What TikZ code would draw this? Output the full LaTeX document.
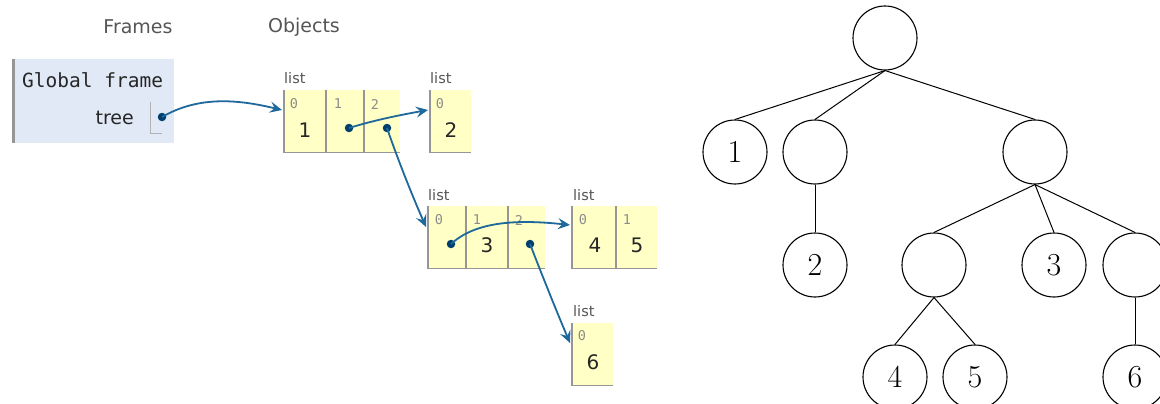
\documentclass[tikz,border=0pt]{standalone}
\usepackage{fontspec}
\setsansfont{DejaVu Sans}
\setmonofont{DejaVu Sans Mono}
\usetikzlibrary{arrows.meta}
\definecolor{framebg}{RGB}{224,233,245}
\definecolor{listbg}{RGB}{255,255,198}
\definecolor{bordergray}{RGB}{150,150,150}
\definecolor{ptrblue}{RGB}{30,104,155}
\definecolor{dotblue}{RGB}{0,62,110}
\definecolor{headgray}{RGB}{85,85,85}
\definecolor{idxgray}{RGB}{140,140,140}
\tikzset{
  heading/.style={font=\sffamily\fontsize{19}{22}\selectfont, text=headgray, inner sep=0pt},
  listlabel/.style={font=\sffamily\fontsize{14.5}{17}\selectfont, text=headgray, inner sep=0pt, anchor=base west},
  cell/.style={rectangle, fill=listbg, inner sep=0pt, anchor=north west, minimum height=62pt},
  idx/.style={font=\ttfamily\fontsize{13.5}{15}\selectfont, text=idxgray, inner sep=0pt},
  val/.style={font=\sffamily\fontsize{20}{24}\selectfont, text=black!85, inner sep=0pt},
  ptrdot/.style={circle, fill=dotblue, inner sep=0pt, minimum size=8.5pt},
  ptr/.style={draw=ptrblue, line width=1.8pt, -{Stealth[length=12pt,width=11pt,inset=4.5pt]}},
  tnode/.style={circle, draw, line width=1.1pt, minimum size=64pt, inner sep=0pt, font=\fontsize{32}{36}\selectfont},
  tedge/.style={line width=1pt},
}
\begin{document}
\begin{tikzpicture}[x=1pt,y=-1pt]
\useasboundingbox (0,0) rectangle (1160,404);
\clip (0,0) rectangle (1160,404);
% headings
\node[heading] (hfr) at (138,27) {Frames};
\node[heading] (hob) at (304,27) {Objects};
% global frame
\node[rectangle, fill=framebg, anchor=north west, minimum width=162pt, minimum height=84pt, inner sep=0pt] (gf) at (12,59) {};
\draw[draw=bordergray, line width=2.5pt] (gf.north west) ++(1.25,0) -- ++(0,84);
\node[font=\ttfamily\fontsize{19.5}{22}\selectfont, text=black!85, inner sep=0pt, anchor=west] (gft) at (22,80) {Global frame};
\node[font=\sffamily\fontsize{19}{22}\selectfont, text=black!85, inner sep=0pt, anchor=east] (tree) at (134,118) {tree};
\draw[draw=black!30, line width=1pt] (150,102) -- (150,133) -- (162,133);
\node[ptrdot] (d0) at (162,117) {};
% list 1
\node[listlabel] (l1lab) at (284,84) {list};
\node[cell, minimum width=42pt] (l1c0) at (284,90) {};
\node[cell, minimum width=38pt] (l1c1) at (326,90) {};
\node[cell, minimum width=36pt] (l1c2) at (364,90) {};
% list 2
\node[listlabel] (l2lab) at (430,84) {list};
\node[cell, minimum width=41pt] (l2c0) at (430,90) {};
% list 3
\node[listlabel] (l3lab) at (428,200) {list};
\node[cell, minimum width=38pt] (l3c0) at (428,206) {};
\node[cell, minimum width=42pt] (l3c1) at (466,206) {};
\node[cell, minimum width=37pt] (l3c2) at (508,206) {};
% list 4
\node[listlabel] (l4lab) at (573,200) {list};
\node[cell, minimum width=44pt] (l4c0) at (572,206) {};
\node[cell, minimum width=41pt] (l4c1) at (616,206) {};
% list 6
\node[listlabel] (l6lab) at (573,316) {list};
\node[cell, minimum width=41pt] (l6c0) at (572,323) {};
% cell borders
\foreach \c in {l1c0,l1c1,l1c2,l2c0,l3c0,l3c1,l3c2,l4c0,l4c1,l6c0}
  \draw[draw=bordergray, line width=1.2pt] (\c.north west) -- (\c.south west) -- (\c.south east);
% indices
\node[idx] at (294,104) {0};
\node[idx] at (338,104) {1};
\node[idx] at (375,104) {2};
\node[idx] at (440,104) {0};
\node[idx] at (439,220) {0};
\node[idx] at (477,220) {1};
\node[idx] at (519,220) {2};
\node[idx] at (583,220) {0};
\node[idx] at (627,220) {1};
\node[idx] at (582,336) {0};
% values
\node[val] at (305,130) {1};
\node[val] at (451,130) {2};
\node[val] at (487,245) {3};
\node[val] at (595,245) {4};
\node[val] at (637,245) {5};
\node[val] at (593,362) {6};
% pointer dots
\node[ptrdot] (d1) at (349,128) {};
\node[ptrdot] (d2) at (387,128) {};
\node[ptrdot] (d3) at (451,244) {};
\node[ptrdot] (d4) at (530,244) {};
% targets
\coordinate (t1) at (282,110);
\coordinate (t2) at (428,110);
\coordinate (t3) at (426,227);
\coordinate (t4) at (570,225);
\coordinate (t6) at (570,343);
% pointers
\draw[ptr] (d0.center) .. controls (200,95) and (240,100) .. (t1);
\draw[ptr] (d1.center) .. controls (375,120) and (400,115) .. (t2);
\draw[ptr] (d2.center) .. controls (398,160) and (412,195) .. (t3);
\draw[ptr] (d3.center) .. controls (475,222) and (515,219) .. (t4);
\draw[ptr] (d4.center) .. controls (542,275) and (556,310) .. (t6);
% tree
\node[tnode] (r) at (885,38) {};
\node[tnode] (n1) at (735,152) {1};
\node[tnode] (a) at (815,152) {};
\node[tnode] (b) at (1035,152) {};
\node[tnode] (n2) at (815,265) {2};
\node[tnode] (c) at (934,265) {};
\node[tnode] (n3) at (1054,265) {3};
\node[tnode] (d) at (1135,265) {};
\node[tnode] (n4) at (895,377) {4};
\node[tnode] (n5) at (975,377) {5};
\node[tnode] (n6) at (1135,377) {6};
\draw[tedge] (r.south) -- (n1.north);
\draw[tedge] (r.south) -- (a.north);
\draw[tedge] (r.south) -- (b.north);
\draw[tedge] (a.south) -- (n2.north);
\draw[tedge] (b.south) -- (c.north);
\draw[tedge] (b.south) -- (n3.north);
\draw[tedge] (b.south) -- (d.north);
\draw[tedge] (c.south) -- (n4.north);
\draw[tedge] (c.south) -- (n5.north);
\draw[tedge] (d.south) -- (n6.north);
\end{tikzpicture}
\end{document}
